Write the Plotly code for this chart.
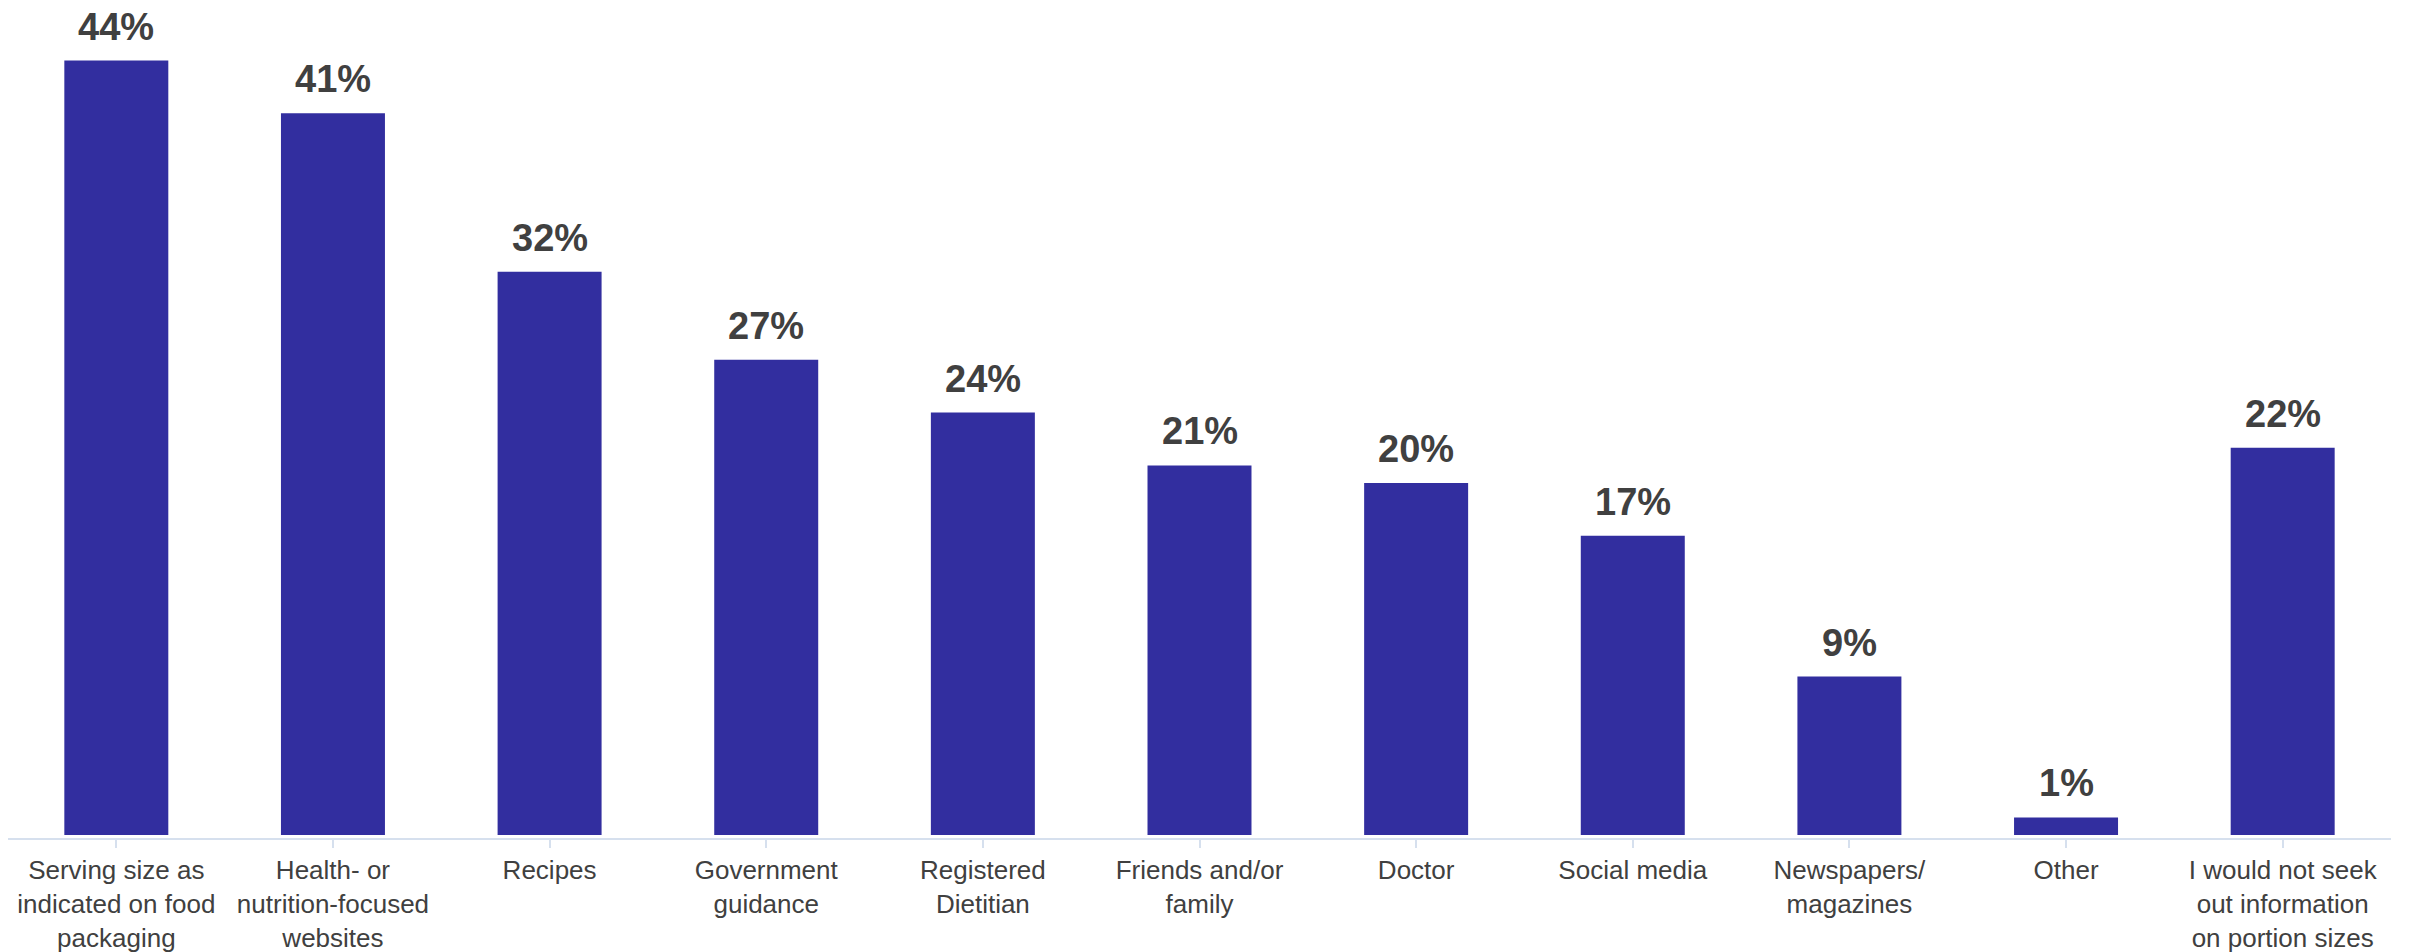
import plotly.graph_objects as go

categories = [
    "Serving size as<br>indicated on food<br>packaging",
    "Health- or<br>nutrition-focused<br>websites",
    "Recipes",
    "Government<br>guidance",
    "Registered<br>Dietitian",
    "Friends and/or<br>family",
    "Doctor",
    "Social media",
    "Newspapers/<br>magazines",
    "Other",
    "I would not seek<br>out information<br>on portion sizes",
]
values = [44, 41, 32, 27, 24, 21, 20, 17, 9, 1, 22]
value_labels = [f"{v}%" for v in values]

BAR = "#322E9F"
TXT = "#404040"
AXIS = "#D6E0EE"

x = list(range(len(categories)))

fig = go.Figure()
fig.add_trace(go.Bar(
    x=x, y=values, marker=dict(color=BAR, line=dict(width=0)),
    width=0.48, hoverinfo="skip",
))

for xi, v, t in zip(x, values, value_labels):
    fig.add_annotation(
        x=xi, y=v, text=t, showarrow=False, yanchor="bottom", yshift=12,
        borderpad=0,
        font=dict(family="Liberation Sans, Arial, sans-serif", size=38, color=TXT, weight="bold"),
    )

fig.update_layout(
    width=2409, height=952,
    margin=dict(l=8, r=18, t=0, b=114, autoexpand=False),
    plot_bgcolor="white", paper_bgcolor="white",
    showlegend=False,
    bargap=0.52,
)
fig.update_xaxes(
    tickmode="array", tickvals=x, ticktext=categories,
    range=[-0.5, len(categories) - 0.5],
    automargin=False,
    showline=True, linecolor=AXIS, linewidth=2,
    ticks="outside", tickson="boundaries", ticklen=8, tickcolor=AXIS, tickwidth=2,
    tickfont=dict(family="Liberation Sans, Arial, sans-serif", size=26, color=TXT),
    showgrid=False, zeroline=False,
)
fig.update_yaxes(
    range=[-0.17, 47.44], automargin=False,
    showticklabels=False, showgrid=False, zeroline=False, showline=False,
)

fig.write_html("out.html")
